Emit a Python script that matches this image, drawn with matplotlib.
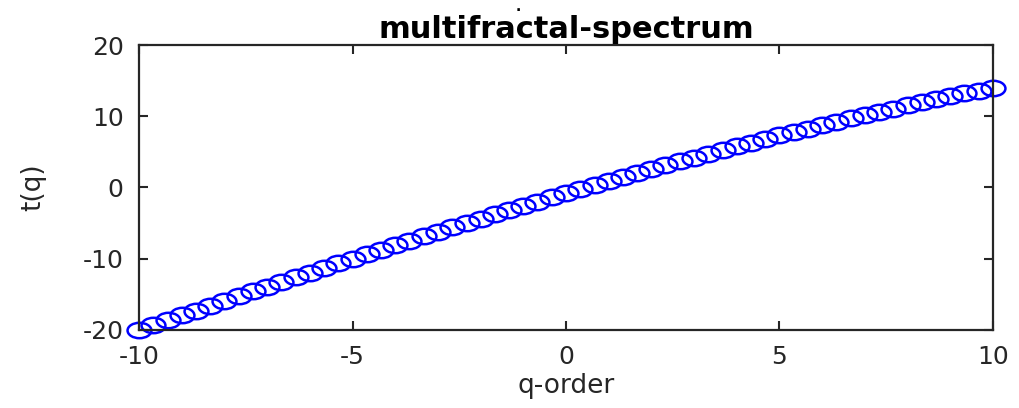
import numpy as np
import matplotlib
matplotlib.use('Agg')
import matplotlib.pyplot as plt
from matplotlib.path import Path
from matplotlib.transforms import Affine2D

# q-order and t(q) (61 points)
q = [-10.0, -9.67, -9.33, -9.0, -8.67, -8.33, -8.0, -7.67, -7.33, -7.0,
     -6.67, -6.33, -6.0, -5.67, -5.33, -5.0, -4.67, -4.33, -4.0, -3.67,
     -3.33, -3.0, -2.67, -2.33, -2.0, -1.67, -1.33, -1.0, -0.67, -0.33,
     0.0, 0.33, 0.67, 1.0, 1.33, 1.67, 2.0, 2.33, 2.67, 3.0,
     3.33, 3.67, 4.0, 4.33, 4.67, 5.0, 5.33, 5.67, 6.0, 6.33,
     6.67, 7.0, 7.33, 7.67, 8.0, 8.33, 8.67, 9.0, 9.33, 9.67, 10.0]
tq = [-20.0, -19.32, -18.63, -17.95, -17.27, -16.60, -15.92, -15.25, -14.59, -13.92,
      -13.26, -12.60, -11.95, -11.29, -10.65, -10.00, -9.36, -8.72, -8.09, -7.46,
      -6.83, -6.21, -5.59, -4.98, -4.36, -3.76, -3.16, -2.56, -1.97, -1.38,
      -0.80, -0.22, 0.35, 0.92, 1.48, 2.04, 2.59, 3.14, 3.68, 4.21,
      4.74, 5.26, 5.78, 6.29, 6.80, 7.30, 7.79, 8.28, 8.76, 9.24,
      9.70, 10.17, 10.62, 11.07, 11.51, 11.94, 12.37, 12.79, 13.20, 13.60, 14.0]

xticks = [-10, -5, 0, 5, 10]
yticks = [-20, -10, 0, 10, 20]

# circle markers come out stretched sideways in the reference
ellipse = Path.unit_circle().transformed(Affine2D().scale(1.55, 1.0))

plt.rcParams['font.family'] = 'DejaVu Sans'
plt.rcParams['axes.unicode_minus'] = False
fig = plt.figure(figsize=(10.2, 4.08), dpi=100)
ax = fig.add_axes([0.1363, 0.1912, 0.8372, 0.6985])

ax.plot(q, tq, linestyle='none', marker=ellipse, markersize=17.2,
        markerfacecolor='none', markeredgecolor='#0000ff', markeredgewidth=1.8,
        clip_on=False)

ax.set_xlim(-10, 10)
ax.set_ylim(-20, 20)
ax.set_xticks(xticks)
ax.set_yticks(yticks)
ax.tick_params(direction='in', length=6.5, width=1.5, top=True, right=True,
               labelsize=18, colors='#262626', pad=11)
for s in ax.spines.values():
    s.set_linewidth(1.6)
    s.set_color('#262626')

ax.set_xlabel('q-order', fontsize=19, color='#262626', labelpad=3)
ax.set_ylabel('t(q)', fontsize=19, color='#262626', labelpad=26)
ax.set_title('multifractal-spectrum', fontsize=22, fontweight='bold', pad=5)
fig.text(0.508, 0.982, '.', fontsize=10, fontweight='bold', ha='center', va='center')

fig.savefig('out.png', dpi=100)
